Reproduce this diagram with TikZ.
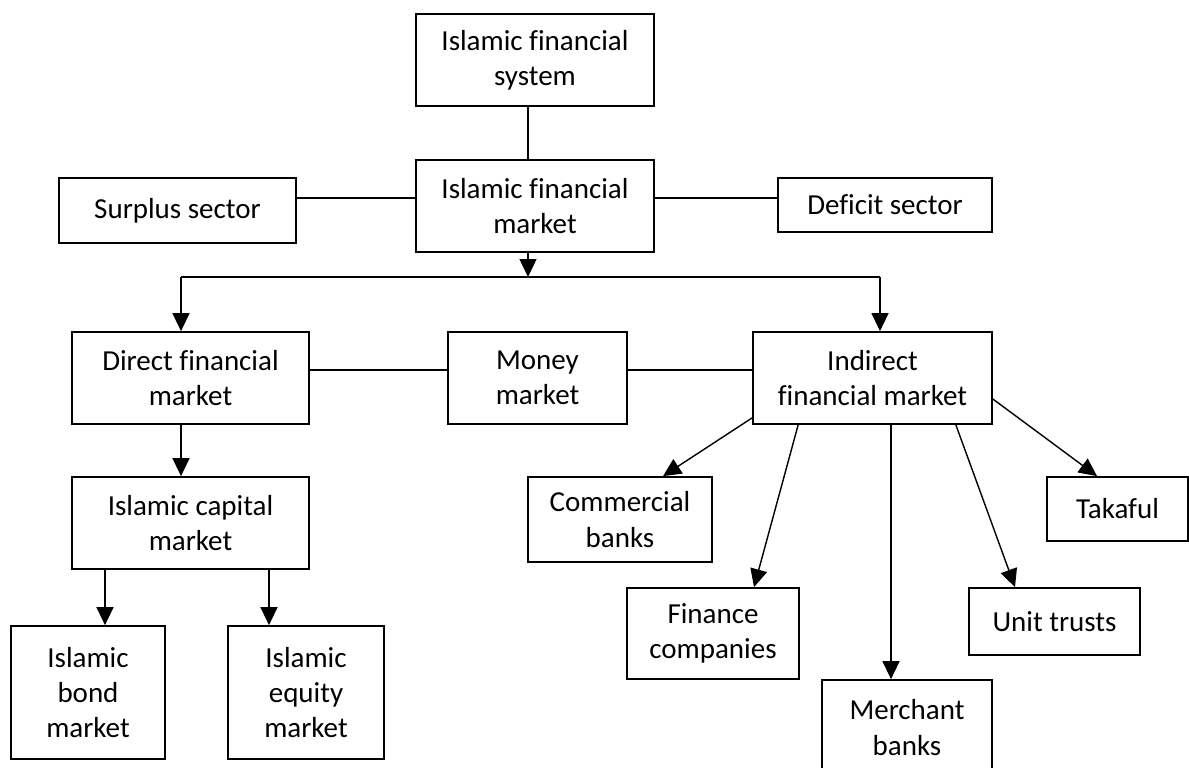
\documentclass[tikz,border=0pt]{standalone}
\usepackage{fontspec}
\setmainfont{Carlito}[Ligatures=NoCommon]
\usetikzlibrary{calc, arrows.meta}

\tikzset{
  box/.style = {draw, line width=1pt, align=center, inner sep=2pt,
    font=\fontsize{16.5}{20}\selectfont},
  link/.style = {line width=0.8pt},
  arr/.style = {line width=0.8pt, -{Triangle[length=0.36cm, width=0.34cm]}}
}

\begin{document}
\begin{tikzpicture}[x=0.02cm, y=-0.02cm]
    \useasboundingbox (0,0) rectangle (1189,767);

    % top of the tree
    \node[box, minimum width=4.76cm, minimum height=1.84cm] (sys) at (535,60) {Islamic financial\\system};
    \node[box, minimum width=4.76cm, minimum height=1.84cm] (mkt) at (535,206) {Islamic financial\\market};
    \node[box, minimum width=4.74cm, minimum height=1.30cm] (surplus) at (177.5,210.5) {Surplus sector};
    \node[box, minimum width=4.28cm, minimum height=1.08cm] (deficit) at (885,205) {Deficit sector};

    % second level
    \node[box, minimum width=4.74cm, minimum height=1.84cm] (direct) at (190.5,378) {Direct financial\\market};
    \node[box, minimum width=3.58cm, minimum height=1.84cm] (money) at (537.5,378) {Money\\market};
    \node[box, minimum width=4.78cm, minimum height=1.84cm] (indirect) at (872.5,378) {Indirect\\financial market};

    % direct side
    \node[box, minimum width=4.74cm, minimum height=1.84cm] (capital) at (190.5,523) {Islamic capital\\market};
    \node[box, minimum width=3.08cm, minimum height=2.66cm] (bond) at (88,692.5) {Islamic\\bond\\market};
    \node[box, minimum width=3.12cm, minimum height=2.66cm] (equity) at (306,692.5) {Islamic\\equity\\market};

    % indirect side
    \node[box, minimum width=3.68cm, minimum height=1.70cm] (commercial) at (620,519.5) {Commercial\\banks};
    \node[box, minimum width=3.44cm, minimum height=1.82cm] (finance) at (713,633.5) {Finance\\companies};
    \node[box, minimum width=3.40cm, minimum height=1.90cm] (merchant) at (907,727.5) {Merchant\\banks};
    \node[box, minimum width=3.42cm, minimum height=1.34cm] (unit) at (1054.5,621.5) {Unit trusts};
    \node[box, minimum width=2.82cm, minimum height=1.28cm] (takaful) at (1117.5,509) {Takaful};

    \coordinate (bus) at (528,277);
    \coordinate (busL) at (181,277);
    \coordinate (busR) at (880,277);

    \draw[link] (sys.south -| bus) -- (mkt.north -| bus);
    \draw[link] (surplus.east |- 0,198) -- (mkt.west |- 0,198);
    \draw[link] (mkt.east |- 0,198) -- (deficit.west |- 0,198);
    \draw[arr] (mkt.south -| bus) -- (bus);
    \draw[link] (busL) -- (busR);
    \draw[arr] (busL) -- (busL |- direct.north);
    \draw[arr] (busR) -- (busR |- indirect.north);

    \draw[link] (direct.east |- 0,370) -- (money.west |- 0,370);
    \draw[link] (money.east |- 0,370) -- (indirect.west |- 0,370);

    \draw[arr] (direct.south -| busL) -- (capital.north -| busL);
    \draw[arr] (capital.south -| 105,0) -- (bond.north -| 105,0);
    \draw[arr] (capital.south -| 269,0) -- (equity.north -| 269,0);

    \draw[arr] ($(indirect.south west)+(0,-7)$) -- ($(commercial.north)+(43,0)$);
    \draw[arr] ($(indirect.south west)+(46,0)$) -- ($(finance.north)+(41,0)$);
    \draw[arr] (indirect.south -| 891,0) -- (merchant.north -| 891,0);
    \draw[arr] ($(indirect.south east)+(-37,0)$) -- ($(unit.north)+(-39.5,0)$);
    \draw[arr] ($(indirect.east)+(0,21)$) -- ($(takaful.north)+(-20.5,0)$);
\end{tikzpicture}
\end{document}
